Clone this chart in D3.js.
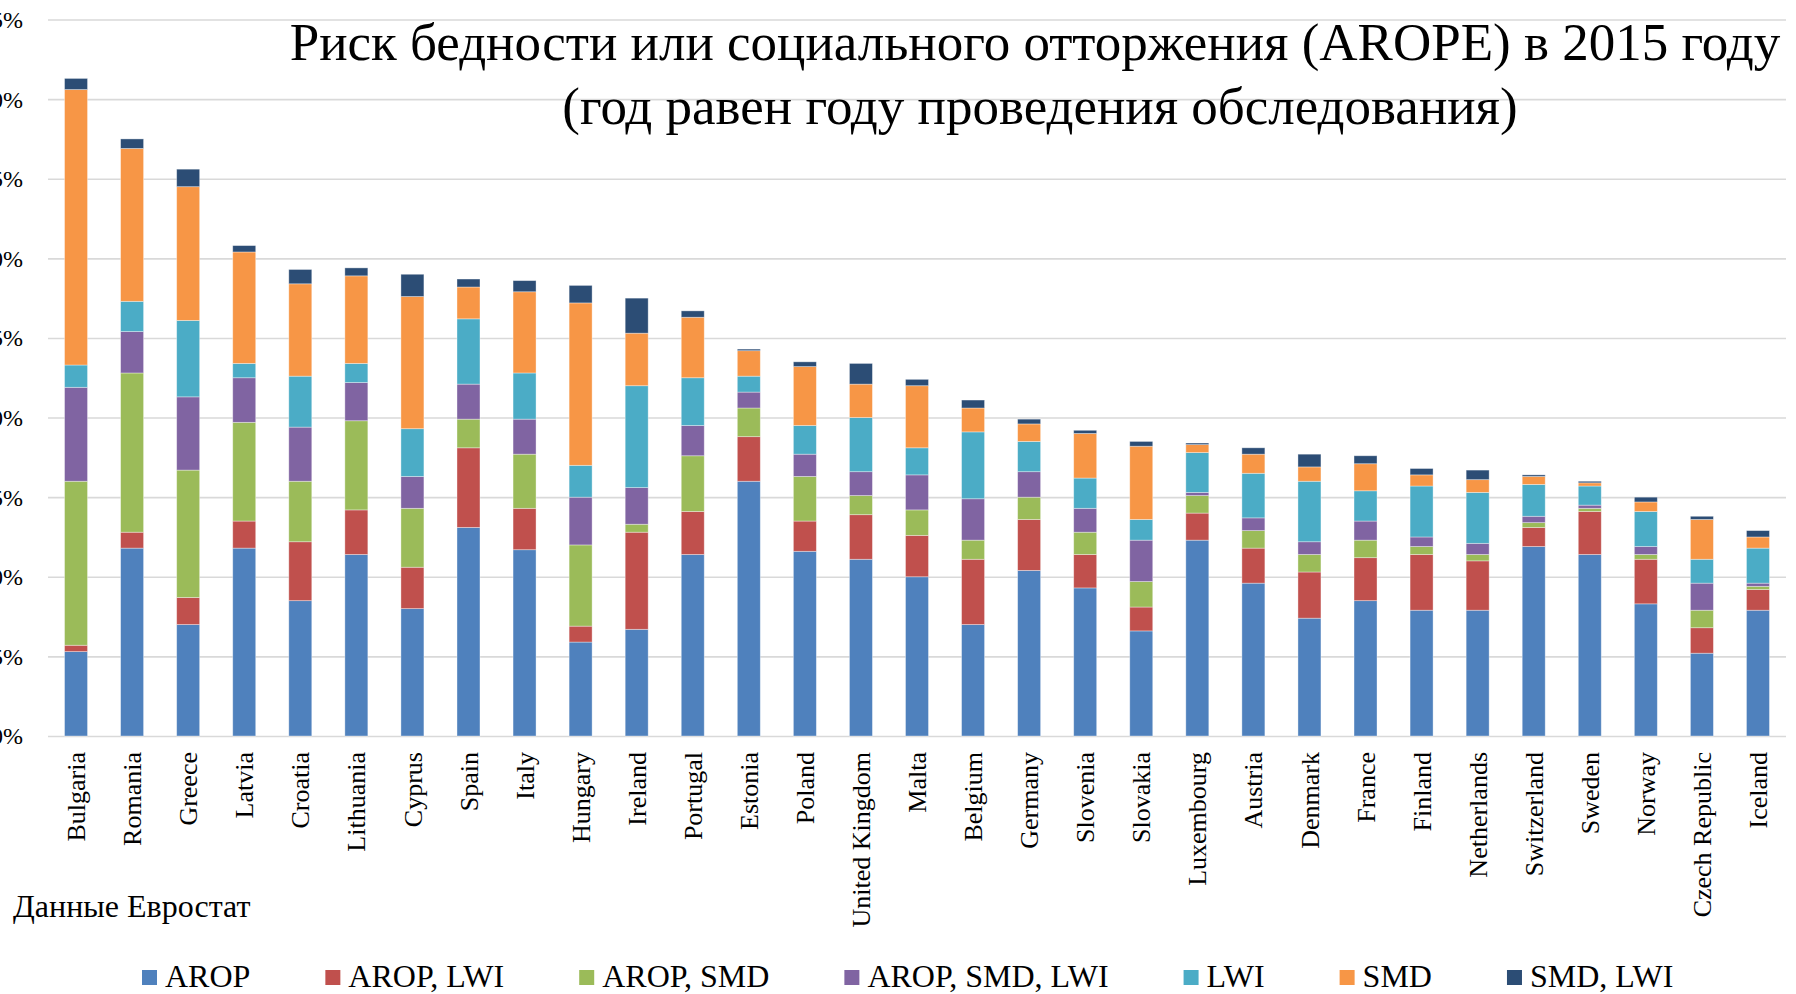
<!DOCTYPE html>
<html>
  <head>
    <meta charset="utf-8" />
    <script src="https://d3js.org/d3.v7.min.js"></script>
    <style>
      body {
        margin: 0;
        background: #fff;
      }
      text {
        font-family: "Liberation Serif", "Times New Roman", serif;
        fill: #000;
      }
      .gridlines line {
        stroke: #d9d9d9;
        stroke-width: 1.6px;
      }
      .gridlines .domain {
        display: none;
      }
    </style>
  </head>
  <body>
    <svg id="chart" width="1796" height="994"></svg>

    <script>
      // values in %
      const countries = [
        "Bulgaria", "Romania", "Greece", "Latvia", "Croatia", "Lithuania",
        "Cyprus", "Spain", "Italy", "Hungary", "Ireland", "Portugal",
        "Estonia", "Poland", "United Kingdom", "Malta", "Belgium", "Germany",
        "Slovenia", "Slovakia", "Luxembourg", "Austria", "Denmark", "France",
        "Finland", "Netherlands", "Switzerland", "Sweden", "Norway",
        "Czech Republic", "Iceland",
      ];
      const seriesNames = [
        "AROP", "AROP, LWI", "AROP, SMD", "AROP, SMD, LWI", "LWI", "SMD", "SMD, LWI",
      ];
      const arop = [5.3, 11.8, 7.0, 11.8, 8.5, 11.4, 8.0, 13.1, 11.7, 5.9, 6.7, 11.4, 16.0, 11.6, 11.1, 10.0, 7.0, 10.4, 9.3, 6.6, 12.3, 9.6, 7.4, 8.5, 7.9, 7.9, 11.9, 11.4, 8.3, 5.2, 7.9];
      const aropLwi = [0.4, 1.0, 1.7, 1.7, 3.7, 2.8, 2.6, 5.0, 2.6, 1.0, 6.1, 2.7, 2.8, 1.9, 2.8, 2.6, 4.1, 3.2, 2.1, 1.5, 1.7, 2.2, 2.9, 2.7, 3.5, 3.1, 1.2, 2.7, 2.8, 1.6, 1.3];
      const aropSmd = [10.3, 10.0, 8.0, 6.2, 3.8, 5.6, 3.7, 1.8, 3.4, 5.1, 0.5, 3.5, 1.8, 2.8, 1.2, 1.6, 1.2, 1.4, 1.4, 1.6, 1.1, 1.1, 1.1, 1.1, 0.5, 0.4, 0.3, 0.2, 0.3, 1.1, 0.2];
      const aropSmdLwi = [5.9, 2.6, 4.6, 2.8, 3.4, 2.4, 2.0, 2.2, 2.2, 3.0, 2.3, 1.9, 1.0, 1.4, 1.5, 2.2, 2.6, 1.6, 1.5, 2.6, 0.2, 0.8, 0.8, 1.2, 0.6, 0.7, 0.4, 0.2, 0.5, 1.7, 0.2];
      const lwi = [1.4, 1.9, 4.8, 0.9, 3.2, 1.2, 3.0, 4.1, 2.9, 2.0, 6.4, 3.0, 1.0, 1.8, 3.4, 1.7, 4.2, 1.9, 1.9, 1.3, 2.5, 2.8, 3.8, 1.9, 3.2, 3.2, 2.0, 1.2, 2.2, 1.5, 2.2];
      const smd = [17.3, 9.6, 8.4, 7.0, 5.8, 5.5, 8.3, 2.0, 5.1, 10.2, 3.3, 3.8, 1.6, 3.7, 2.1, 3.9, 1.5, 1.1, 2.8, 4.6, 0.5, 1.2, 0.9, 1.7, 0.7, 0.8, 0.5, 0.2, 0.6, 2.5, 0.7];
      const smdLwi = [0.7, 0.6, 1.1, 0.4, 0.9, 0.5, 1.4, 0.5, 0.7, 1.1, 2.2, 0.4, 0.1, 0.3, 1.3, 0.4, 0.5, 0.3, 0.2, 0.3, 0.1, 0.4, 0.8, 0.5, 0.4, 0.6, 0.1, 0.1, 0.3, 0.2, 0.4];
      const yTicks = [0, 5, 10, 15, 20, 25, 30, 35, 40, 45];
      const colors = ["#4f81bd", "#c0504d", "#9bbb59", "#8064a2", "#4bacc6", "#f79646", "#2c4d75"];

      const svg = d3.select("svg#chart");
      const plot = { left: 48, right: 1786, top: 19.5, bottom: 736 };

      const allSeries = [arop, aropLwi, aropSmd, aropSmdLwi, lwi, smd, smdLwi];
      const rows = countries.map((c, i) => {
        const row = { country: c };
        seriesNames.forEach((s, j) => (row[s] = allSeries[j][i]));
        return row;
      });
      const stacked = d3.stack().keys(seriesNames)(rows);

      const xScale = d3
        .scaleBand()
        .domain(countries)
        .range([plot.left, plot.right])
        .paddingInner(0.59)
        .paddingOuter(0.295);
      const yScale = d3.scaleLinear().domain([0, 45]).range([plot.bottom, plot.top]);
      const colorScale = d3.scaleOrdinal().domain(seriesNames).range(colors);

      // gridlines
      svg
        .append("g")
        .attr("class", "gridlines")
        .attr("transform", `translate(${plot.left},0)`)
        .call(
          d3.axisLeft(yScale).tickValues(yTicks).tickSize(-(plot.right - plot.left)).tickFormat("")
        );

      // y labels, partly off the left edge as in the original
      svg
        .append("g")
        .selectAll("text")
        .data(yTicks)
        .join("text")
        .attr("x", 23)
        .attr("y", (d) => yScale(d))
        .attr("dy", "0.35em")
        .attr("text-anchor", "end")
        .attr("font-size", 24)
        .text((d) => d + "%");

      // bars
      svg
        .append("g")
        .selectAll("g")
        .data(stacked)
        .join("g")
        .attr("fill", (d) => colorScale(d.key))
        .selectAll("rect")
        .data((d) => d)
        .join("rect")
        .attr("x", (d) => xScale(d.data.country))
        .attr("y", (d) => yScale(d[1]))
        .attr("width", xScale.bandwidth())
        .attr("height", (d) => yScale(d[0]) - yScale(d[1]))
        .attr("stroke", "rgba(255,255,255,0.45)")
        .attr("stroke-width", 0.8);

      // country labels
      svg
        .append("g")
        .selectAll("text")
        .data(countries)
        .join("text")
        .attr(
          "transform",
          (d) => `translate(${xScale(d) + xScale.bandwidth() / 2},752) rotate(-90)`
        )
        .attr("dy", "0.35em")
        .attr("text-anchor", "end")
        .attr("font-size", 26)
        .text((d) => d);

      // title
      const title = svg.append("text").attr("text-anchor", "middle").attr("font-size", 53);
      title.append("tspan").attr("x", 1035).attr("y", 60).text("Риск бедности или социального отторжения (AROPE) в 2015 году");
      title.append("tspan").attr("x", 1040).attr("y", 124).text("(год равен году проведения обследования)");

      svg.append("text").attr("x", 13).attr("y", 917).attr("font-size", 32).text("Данные Евростат");

      // legend
      const legend = svg.append("g");
      let lx = 142;
      seriesNames.forEach((s) => {
        legend
          .append("rect")
          .attr("x", lx)
          .attr("y", 970)
          .attr("width", 15)
          .attr("height", 15)
          .attr("fill", colorScale(s));
        const t = legend
          .append("text")
          .attr("x", lx + 23)
          .attr("y", 987)
          .attr("font-size", 32)
          .text(s);
        lx += 23 + t.node().getComputedTextLength() + 75;
      });
    </script>
  </body>
</html>
